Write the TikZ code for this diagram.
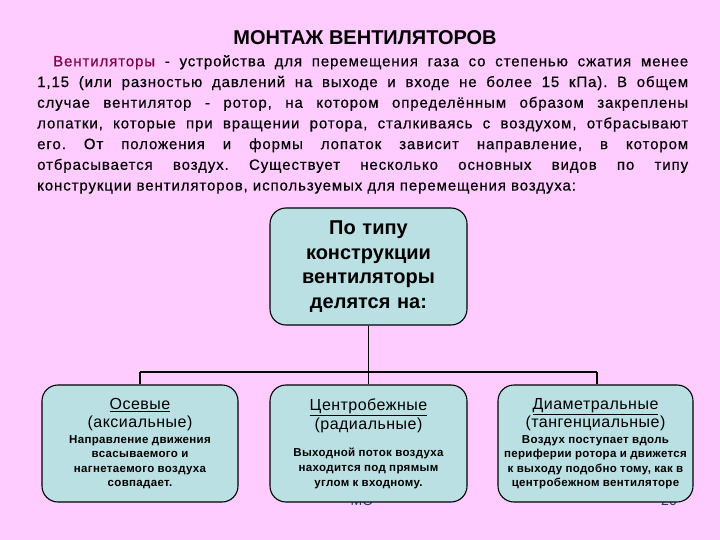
\documentclass[tikz,border=0pt]{standalone}
\usepackage{fontspec}
\setmainfont{Liberation Sans}
\newfontfamily\spaced[LetterSpace=6,FakeBold=0.4]{Liberation Sans}
\newfontfamily\spacedlight[LetterSpace=3]{Liberation Sans}
\definecolor{bg}{HTML}{FFCCFF}
\definecolor{boxfill}{HTML}{BBE0E3}
\definecolor{accent}{HTML}{800040}
\definecolor{footer}{HTML}{333366}
\begin{document}
\frenchspacing
\begin{tikzpicture}[x=1pt,y=-1pt,
  box/.style={draw=black, line width=1.1pt, fill=boxfill, rounded corners=16pt, align=center, inner sep=0pt, text width=190pt},
  conn/.style={line width=1.8pt}]
\fill[bg] (0,0) rectangle (720,540);
\useasboundingbox (0,0) rectangle (720,540);

% title
\node[font=\bfseries\fontsize{20}{24}\selectfont] (title) at (365,38) {МОНТАЖ ВЕНТИЛЯТОРОВ};

% paragraph
\node[anchor=north west, inner sep=0pt, text width=651pt, align=justify,
      font=\spaced\fontsize{15}{20.7}\selectfont] (para) at (37,55)
{\hspace*{16pt}\textcolor{accent}{Вентиляторы} - устройства для перемещения газа со степенью сжатия менее\linebreak
1,15 (или разностью давлений на выходе и входе не более 15 кПа). В общем\linebreak
случае вентилятор - ротор, на котором определённым образом закреплены\linebreak
лопатки, которые при вращении ротора, сталкиваясь с воздухом, отбрасывают\linebreak
его. От положения и формы лопаток зависит направление, в котором\linebreak
отбрасывается воздух. Существует несколько основных видов по типу\linebreak
конструкции вентиляторов, используемых для перемещения воздуха:};

% footer texts (partly hidden behind boxes)
\node[text=footer, font=\fontsize{14}{16}\selectfont] (mo) at (362,501) {МО};
\node[text=footer, font=\fontsize{14}{16}\selectfont] (num) at (669,501) {20};

% top box
\node[box, minimum width=197pt, minimum height=117pt,
      font=\bfseries\fontsize{20}{24.5}\selectfont] (top) at (368.5,266.5)
{По типу\\конструкции\\вентиляторы\\делятся на:};

% bottom boxes
\node[box, minimum width=196pt, minimum height=117pt] (left) at (140,443.5)
{{\spacedlight\fontsize{16}{18.5}\selectfont\underline{Осевые}\\(аксиальные)\par}
 \vspace{1pt}
 {\spacedlight\bfseries\fontsize{11.5}{14.5}\selectfont Направление движения\\всасываемого и\\нагнетаемого воздуха\\совпадает.\par}};

\node[box, minimum width=197pt, minimum height=117pt] (mid) at (368.5,443.5)
{{\spacedlight\fontsize{16}{19.5}\selectfont\underline{Центробежные}\\(радиальные)\par}
 \vspace{12pt}
 {\spacedlight\bfseries\fontsize{11.5}{14.8}\selectfont Выходной поток воздуха\\находится под прямым\\углом к входному.\par}};

\node[box, minimum width=195pt, minimum height=117pt] (right) at (595.5,443.5)
{{\spacedlight\fontsize{16}{18.5}\selectfont\underline{Диаметральные}\\(тангенциальные)\par}
 \vspace{1pt}
 {\spacedlight\bfseries\fontsize{11.5}{14.5}\selectfont Воздух поступает вдоль\\периферии ротора и движется\\к выходу подобно тому, как в\\центробежном вентиляторе\par}};

% connectors
\coordinate (busL) at (140,372);
\coordinate (busR) at (597,372);
\draw[conn] (top.south) -- (top.south |- busL);
\draw[conn] (busL) -- (busR);
\draw[conn] (busL) -- (left.north);
\draw[conn] (top.south |- busL) -- (mid.north -| top.south);
\draw[conn] (busR) -- (busR |- right.north);
\end{tikzpicture}
\end{document}
